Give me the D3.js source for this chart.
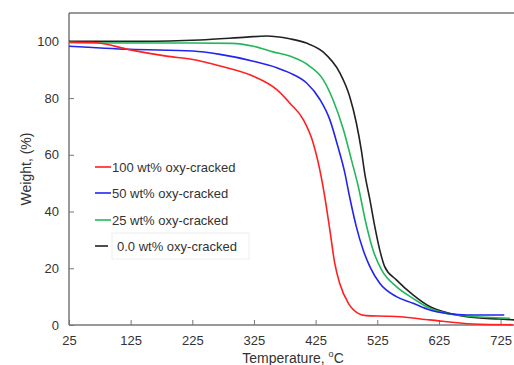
<!DOCTYPE html>
<html lang="en">
<head>
<meta charset="UTF-8">
<title>TGA weight loss</title>
<style>
  body { margin: 0; background: #fff; font-family: 'Liberation Sans', Arial, sans-serif; }
  svg text { fill: #333; }
</style>
</head>
<body>
<svg id="chart" width="514" height="365"></svg>
<script src="https://cdn.jsdelivr.net/npm/d3@7"></script>
<script>
// data
var xTicks = [25, 125, 225, 325, 425, 525, 625, 725];
var yTicks = [0, 20, 40, 60, 80, 100];
var seriesNames = ['100 wt% oxy-cracked', '50 wt% oxy-cracked', '25 wt% oxy-cracked', '0.0 wt% oxy-cracked'];
var seriesColors = ['#ff2020', '#2424f0', '#22b85a', '#222222'];

var tRed   = [25, 70, 124, 183, 226, 270, 324, 362, 383, 405, 421, 429, 440, 448, 456, 464, 478, 494, 507, 540, 562, 610, 680, 745];
var wRed   = [99.8, 99.5, 97, 94.8, 93.6, 91.3, 87.7, 83, 78.3, 72.4, 64.2, 57.5, 45, 33.6, 21.8, 14.7, 7.7, 4.1, 3.3, 3.1, 2.9, 1.8, 0.35, 0.1];

var tBlue  = [25, 124, 226, 270, 324, 362, 383, 410, 432, 448, 461, 472, 480, 491, 502, 513, 529, 556, 583, 610, 640, 670, 731];
var wBlue  = [98.3, 97.2, 96.6, 95.4, 93, 90.7, 88.9, 85.4, 79.5, 72.4, 63, 54, 45.3, 34.7, 26.5, 20.6, 14.7, 10, 7.7, 5.3, 4, 3.5, 3.5];

var tGreen = [25, 125, 225, 290, 324, 356, 383, 415, 437, 453, 470, 483, 494, 507, 518, 532, 556, 583, 610, 640, 670, 740];
var wGreen = [99.5, 99.4, 99.4, 99.3, 98.3, 96.3, 94.8, 91.3, 86.6, 79.5, 68.9, 58.3, 49, 35.5, 26.5, 19.4, 13.5, 9.4, 5.9, 4, 3.2, 2.4];

var tBlack = [25, 145, 237, 313, 345, 383, 410, 437, 464, 480, 491, 499, 505, 513, 521, 529, 537, 556, 583, 610, 640, 670, 723, 748];
var wBlack = [100, 100, 100.5, 101.5, 101.9, 100.9, 99.4, 96.3, 89, 80.7, 71.3, 61.8, 53, 44.2, 34.7, 26.5, 20.6, 15.9, 10.6, 6.5, 4.2, 2.9, 2.1, 1.8];

var temps = [tRed, tBlue, tGreen, tBlack];
var weights = [wRed, wBlue, wGreen, wBlack];

var svg = d3.select('#chart');
var plotL = 69, plotT = 13, plotB = 325, plotR = 516;

var x = d3.scaleLinear().domain([25, 750]).range([plotL, plotR]);
var y = d3.scaleLinear().domain([0, 110]).range([plotB, plotT]);

// frame: top border
svg.append('line').attr('x1', plotL).attr('x2', 514).attr('y1', plotT).attr('y2', plotT)
  .attr('stroke', '#777').attr('stroke-width', 1.5);

var xAxis = svg.append('g').attr('transform', 'translate(0,' + plotB + ')')
  .call(d3.axisBottom(x).tickValues(xTicks).tickSizeInner(-5).tickSizeOuter(0).tickPadding(11));
var yAxis = svg.append('g').attr('transform', 'translate(' + plotL + ',0)')
  .call(d3.axisLeft(y).tickValues(yTicks).tickSizeInner(-5).tickSizeOuter(0).tickPadding(10));

[xAxis, yAxis].forEach(function (g) {
  g.select('.domain').attr('stroke', '#777').attr('stroke-width', 1.5);
  g.selectAll('.tick line').attr('stroke', '#777');
  g.selectAll('.tick text').attr('font-size', 13).attr('font-family', "'Liberation Sans', Arial, sans-serif").attr('fill', '#333');
});
yAxis.select('.domain').attr('d', 'M0,' + plotT + 'V' + plotB);
xAxis.select('.domain').attr('d', 'M' + plotL + ',0H514');

// curves
var line = d3.line()
  .x(function (d) { return x(d[0]); })
  .y(function (d) { return y(d[1]); })
  .curve(d3.curveMonotoneX);

// draw black first so the others stay visible
[3, 2, 1, 0].forEach(function (i) {
  var pts = d3.zip(temps[i], weights[i]);
  svg.append('path').datum(pts)
    .attr('d', line)
    .attr('fill', 'none')
    .attr('stroke', seriesColors[i])
    .attr('stroke-width', 1.6);
});

// legend
var legY = [167, 193, 220, 246];
svg.append('rect').attr('x', 112).attr('y', 233).attr('width', 137).attr('height', 26)
  .attr('fill', 'none').attr('stroke', '#eee');
seriesNames.forEach(function (name, i) {
  svg.append('line').attr('x1', 95).attr('x2', i === 3 ? 108 : 111)
    .attr('y1', legY[i]).attr('y2', legY[i])
    .attr('stroke', seriesColors[i]).attr('stroke-width', 1.6);
  svg.append('text').attr('x', i === 3 ? 117 : 112).attr('y', legY[i] + 4.5)
    .attr('font-size', 13).text(name);
});

// axis titles
var xt = svg.append('text').attr('x', 293).attr('y', 363).attr('text-anchor', 'middle').attr('font-size', 14);
xt.append('tspan').text('Temperature, ');
xt.append('tspan').attr('font-size', 9).attr('dy', -6).text('o');
xt.append('tspan').attr('dy', 6).text('C');

svg.append('text').attr('transform', 'translate(31,169) rotate(-90)')
  .attr('text-anchor', 'middle').attr('font-size', 14).text('Weight, (%)');
</script>
</body>
</html>
